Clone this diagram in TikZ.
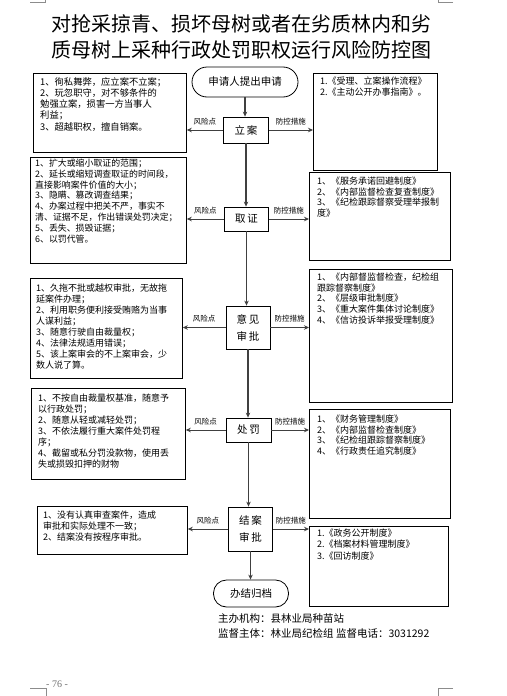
\documentclass[tikz,border=0pt]{standalone}
\usepackage{fontspec}
\setmainfont{Liberation Serif}
\newfontfamily\cjk{Noto Sans CJK SC}
\usetikzlibrary{arrows.meta,calc}
\tikzset{
  proc/.style={draw, line width=0.8pt, inner sep=0pt, align=center, font=\cjk\fontsize{10.5}{17}\selectfont},
  term/.style={proc, rounded corners=13pt},
  box/.style={draw, line width=0.8pt, inner sep=0pt, anchor=north west},
  btxt/.style={anchor=north west, inner sep=0pt, align=left, font=\cjk\fontsize{9}{11}\selectfont},
  lbl/.style={inner sep=0pt, font=\cjk\fontsize{7.5}{9}\selectfont},
  flow/.style={draw=black!75, line width=1.1pt, -{Stealth[length=5pt,width=4.5pt]}},
  harr/.style={draw=black!75, line width=1pt, -{Stealth[length=5pt,width=4.5pt]}},
  crop/.style={draw=black!45, line width=0.6pt},
}
\begin{document}
\begin{tikzpicture}[x=1pt,y=-1pt]
\useasboundingbox[fill=white] (0,0) rectangle (506,696);

% crop marks
\draw[crop] (30,2) -- (45,2) -- (45,0);
\draw[crop] (453,2) -- (438,2) -- (438,0);
\draw[crop] (30,688) -- (46,688) -- (46,696);
\draw[crop] (453,688) -- (438,688) -- (438,696);
\node[anchor=west, inner sep=0pt, text=black!55, font=\fontsize{10}{12}\selectfont] (pg) at (46,684) {- 76 -};

% title
\node[inner sep=0pt, align=center, font=\cjk\fontsize{20}{26}\selectfont] (title) at (241.5,37)
  {对抢采掠青、损坏母树或者在劣质林内和劣\\质母树上采种行政处罚职权运行风险防控图};

% process nodes
\node[term, minimum width=106pt, minimum height=30pt, rounded corners=15pt] (start) at (245,82) {申请人提出申请};
\node[proc, minimum width=45pt, minimum height=26pt] (lian) at (246,130) {立\,案};
\node[proc, minimum width=44pt, minimum height=24pt] (qz) at (246.5,219) {取\,证};
\node[proc, minimum width=44pt, minimum height=43pt] (yj) at (248,327.5) {意\,见\\审\,批};
\node[proc, minimum width=45pt, minimum height=24pt] (cf) at (248.5,430) {处\,罚};
\node[proc, minimum width=44pt, minimum height=44pt] (ja) at (250.5,529) {结\,案\\审\,批};
\node[term, minimum width=75pt, minimum height=27pt] (end) at (251,593.5) {办结归档};

% risk boxes (left)
\node[box, minimum width=153pt, minimum height=79pt] (lb1) at (33,73) {};
\node[box, minimum width=156pt, minimum height=106pt] (lb2) at (30,157) {};
\node[box, minimum width=152pt, minimum height=100pt] (lb3) at (30,278) {};
\node[box, minimum width=154pt, minimum height=91pt] (lb4) at (31,388) {};
\node[box, minimum width=150pt, minimum height=48pt] (lb5) at (37,506) {};

% measure boxes (right)
\node[box, minimum width=124pt, minimum height=97pt] (rb1) at (313,73) {};
\node[box, minimum width=141pt, minimum height=88pt] (rb2) at (309,172) {};
\node[box, minimum width=143pt, minimum height=133pt] (rb3) at (309,269) {};
\node[box, minimum width=141pt, minimum height=109pt] (rb4) at (309,409) {};
\node[box, minimum width=139pt, minimum height=80pt] (rb5) at (309,526) {};

% texts left
\node[btxt, font=\cjk\fontsize{9.3}{11.3}\selectfont] (t1) at (40,77)
 {1、徇私舞弊，应立案不立案；\\2、玩忽职守，对不够条件的\\勉强立案，损害一方当事人\\利益；\\3、超越职权，擅自销案。};
\node[btxt, font=\cjk\fontsize{8.9}{10.9}\selectfont] (t2) at (35,158.5)
 {1、扩大或缩小取证的范围；\\2、延长或缩短调查取证的时间段，\\直接影响案件价值的大小；\\3、隐瞒、篡改调查结果；\\4、办案过程中把关不严，事实不\\清、证据不足，作出错误处罚决定；\\5、丢失、损毁证据；\\6、以罚代管。};
\node[btxt] (t3) at (36,283.5)
 {1、久拖不批或越权审批，无故拖\\延案件办理；\\2、利用职务便利接受贿赂为当事\\人谋利益；\\3、随意行驶自由裁量权；\\4、法律法规适用错误；\\5、该上案审会的不上案审会，少\\数人说了算。};
\node[btxt] (t4) at (38,393.5)
 {1、不按自由裁量权基准，随意予\\以行政处罚；\\2、随意从轻或减轻处罚；\\3、不依法履行重大案件处罚程\\序；\\4、截留或私分罚没款物，使用丢\\失或损毁扣押的财物};
\node[btxt] (t5) at (43,510.5)
 {1、没有认真审查案件，造成\\审批和实际处理不一致；\\2、结案没有按程序审批。};

% texts right
\node[btxt] (s1) at (320,76.5)
 {1.《受理、立案操作流程》\\2.《主动公开办事指南》。};
\node[btxt, font=\cjk\fontsize{9}{10.7}\selectfont] (s2) at (317,176.5)
 {1、《服务承诺回避制度》\\2、《内部监督检查复查制度》\\3、《纪检跟踪督察受理举报制\\度》};
\node[btxt, font=\cjk\fontsize{9}{10.8}\selectfont] (s3) at (317,272.5)
 {1、《内部督监督检查，纪检组\\跟踪督察制度》\\2、《层级审批制度》\\3、《重大案件集体讨论制度》\\4、《信访投诉举报受理制度》};
\node[btxt, font=\cjk\fontsize{9}{10.7}\selectfont] (s4) at (317,414.5)
 {1、《财务管理制度》\\2、《内部监督检查制度》\\3、《纪检组跟踪督察制度》\\4、《行政责任追究制度》};
\node[btxt, font=\cjk\fontsize{9}{11.5}\selectfont] (s5) at (317,528.5)
 {1.《政务公开制度》\\2.《档案材料管理制度》\\3.《回访制度》};

% vertical flow
\draw[flow] (start.south) -- (start.south |- lian.north);
\draw[flow] (lian.south) -- (lian.south |- qz.north);
\draw[flow] (qz.south) -- (qz.south |- yj.north);
\draw[flow] (yj.south) -- (yj.south |- cf.north);
\draw[flow] (cf.south) -- (cf.south |- ja.north);
\draw[flow] (ja.south) -- (ja.south |- end.north);

% horizontal arrows + labels
\foreach \p/\l/\r in {lian/lb1/rb1, qz/lb2/rb2, yj/lb3/rb3, cf/lb4/rb4, ja/lb5/rb5}{
  \draw[harr] (\p.west) -- (\p.west -| \l.east);
  \draw[harr] (\p.east) -- (\p.east -| \r.west);
  \node[lbl, anchor=south] at ($(\p.west)!0.5!(\p.west -| \l.east) + (0,-5)$) {风险点};
  \node[lbl, anchor=south] at ($(\p.east)!0.5!(\p.east -| \r.west) + (0,-5)$) {防控措施};
}

% footer
\node[anchor=west, inner sep=0pt, font=\cjk\fontsize{10.5}{12}\selectfont] (f1) at (218,619) {主办机构：县林业局种苗站};
\node[anchor=west, inner sep=0pt, font=\cjk\fontsize{10.5}{12}\selectfont] (f2) at (218,633) {监督主体：林业局纪检组 监督电话：3031292};
\end{tikzpicture}
\end{document}
